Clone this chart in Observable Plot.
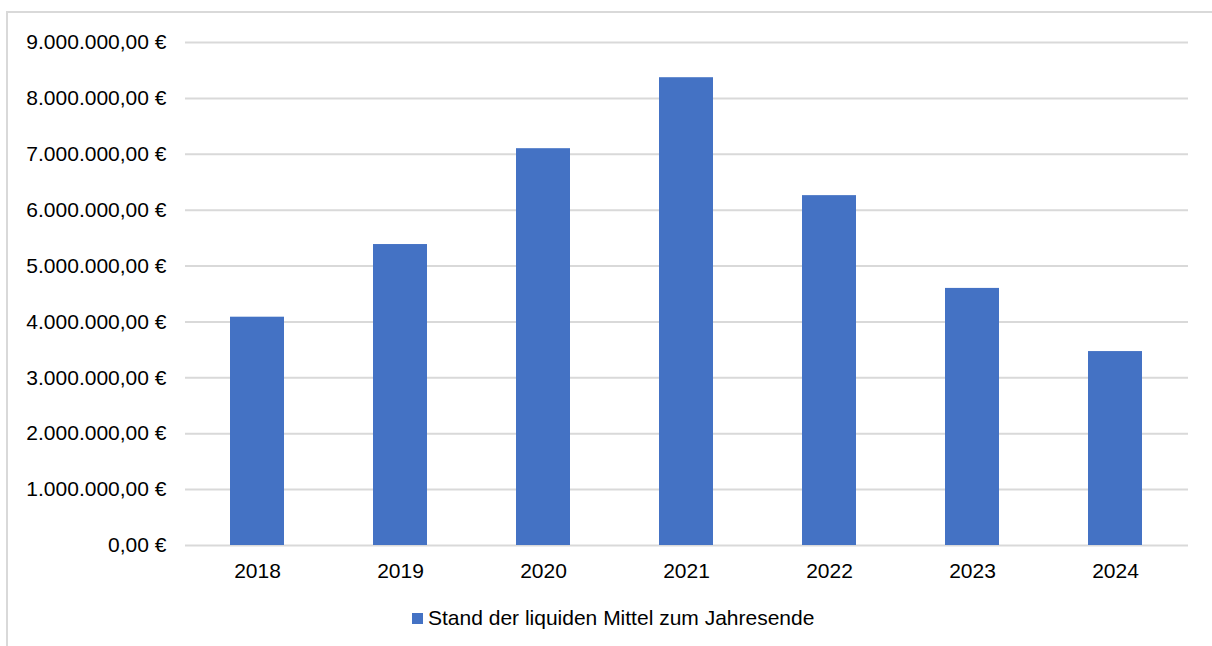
<!DOCTYPE html>
<html>
<head>
<meta charset="utf-8">
<script src="https://cdn.jsdelivr.net/npm/d3@7"></script>
<script src="https://cdn.jsdelivr.net/npm/@observablehq/plot@0.6"></script>
<style>
  body { margin: 0; background: #fff; font-family: "Liberation Sans", Arial, sans-serif; }
  #wrap { position: relative; width: 1212px; height: 646px; overflow: hidden; background: #fff; }
  #frame { position: absolute; left: 6px; top: 11px; right: -4px; bottom: -4px; border-left: 2px solid #d9d9d9; border-top: 2px solid #d9d9d9; }
  #chart { position: absolute; left: 0; top: 0; }
  #legend { position: absolute; left: 412px; top: 606px; display: flex; align-items: center; font-size: 21px; color: #000; }
  #legend .sw { width: 11px; height: 11px; background: #4472C4; margin-right: 5px; }
</style>
</head>
<body>
<div id="wrap">
  <div id="frame"></div>
  <div id="chart"></div>
  <div id="legend"><span class="sw"></span><span id="legend-label"></span></div>
</div>
<script>
const years = ["2018", "2019", "2020", "2021", "2022", "2023", "2024"];
const values = [4085000, 5385000, 7100000, 8370000, 6260000, 4600000, 3470000];
const yTicks = [0, 1000000, 2000000, 3000000, 4000000, 5000000, 6000000, 7000000, 8000000, 9000000];
const seriesName = "Stand der liquiden Mittel zum Jahresende";
const barColor = "#4472C4";

const data = years.map((y, i) => ({year: y, value: values[i]}));

const de = d3.formatLocale({decimal: ",", thousands: ".", grouping: [3], currency: ["", " €"]});
const fmt = de.format("$,.2f");

const chart = Plot.plot({
  width: 1212,
  height: 590,
  marginLeft: 185,
  marginRight: 24,
  marginTop: 42,
  marginBottom: 45,
  style: {fontFamily: "'Liberation Sans', Arial, sans-serif", fontSize: "21px", color: "#000", background: "transparent"},
  x: {domain: years, paddingInner: 0.62, paddingOuter: 0.31, label: null},
  y: {domain: [0, 9000000], label: null},
  marks: [
    Plot.gridY(yTicks, {stroke: "#d9d9d9", strokeOpacity: 1, strokeWidth: 2}),
    Plot.barY(data, {x: "year", y: "value", fill: barColor}),
    Plot.axisY(yTicks, {tickSize: 0, tickPadding: 19, tickFormat: fmt, fontSize: 21, fill: "#000", label: null}),
    Plot.axisX({tickSize: 0, tickPadding: 18, fontSize: 21, fill: "#000", label: null})
  ]
});
document.getElementById("chart").appendChild(chart);
document.getElementById("legend-label").textContent = seriesName;
</script>
</body>
</html>
